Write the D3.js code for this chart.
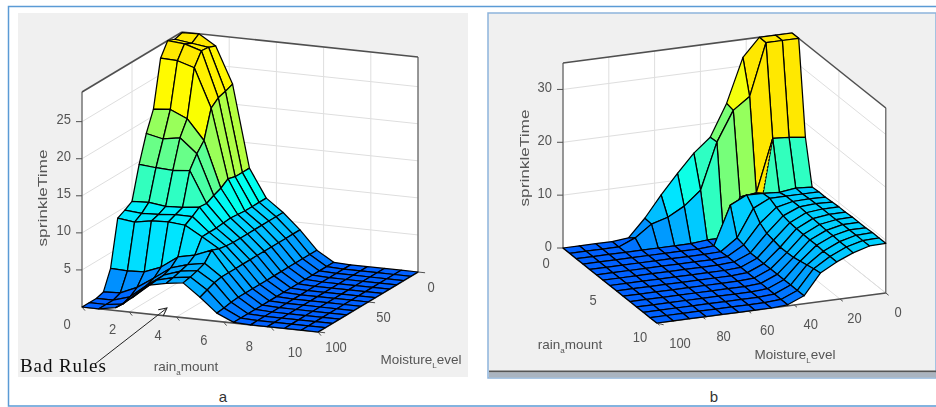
<!DOCTYPE html>
<html>
<head>
<meta charset="utf-8">
<script src="https://cdn.jsdelivr.net/npm/d3@7"></script>
<style>
	html, body { margin: 0; padding: 0; background: #fff; }
	svg { display: block; }
	text { font-family: "Liberation Sans", Arial, sans-serif; fill: #555; }
</style>
</head>
<body>
<div id="chart"></div>
<script>
// Two fuzzy output surfaces (gensurf style), 15 x 15 grid, rain on i, moisture on j

// sprinkleTime for panel a, one row per rain step
const surfaceA = [
	[28.9,28.6,29,27.2,20.9,18.2,14.6,10.2,9.6,9.1,2.9,0.3,0,0,0],
	[29,28.3,28.8,27.1,21.1,17.7,14.4,10.3,9.4,8.8,2.8,0.4,0,0,0],
	[27.6,28,28.1,26.4,20.1,18.1,14.3,10,9.5,9.2,2.9,1.4,0.7,0.3,0.4],
	[22.7,22.3,22,21.2,17.4,16.2,14.5,10.1,9.7,9.3,3.8,2.9,2.5,2.2,2],
	[11.6,11.6,11.6,11.9,11.2,10.8,10.3,10.4,9.7,9.1,5.4,4.5,4.1,4,3.9],
	[7.8,7.8,7.8,7.8,7.9,8,7.9,7.8,7.8,7.8,5.9,5.2,4.9,4.6,4.4],
	[6.1,6.1,6.1,6.1,6.1,6.1,6.1,6.1,6.2,6.4,6.8,5.6,5.2,4.9,4.7],
	[4,4,4,4,4,4,4,4,4,4,4,4,3.8,3.4,3],
	[1.5,1.5,1.5,1.5,1.5,1.5,1.5,1.5,1.5,1.5,1.5,1.5,1.4,1.2,1.1],
	[0.1,0.1,0.1,0.1,0.1,0.1,0.1,0.1,0.1,0.1,0.1,0.1,0.1,0.1,0.1],
	[0,0,0,0,0,0,0,0,0,0,0,0,0,0,0],
	[0,0,0,0,0,0,0,0,0,0,0,0,0,0,0],
	[0,0,0,0,0,0,0,0,0,0,0,0,0,0,0],
	[0,0,0,0,0,0,0,0,0,0,0,0,0,0,0],
	[0,0,0,0,0,0,0,0,0,0,0,0,0,0,0]
];

// sprinkleTime for panel b
const surfaceB = [
	[35,35,35,31.6,23.3,17.3,14.7,11.3,7.6,3.6,0.3,0,0,0,0],
	[35,35,35,25.2,23,17.4,8.7,6.1,4.4,3.5,1.3,0,0,0,0],
	[17.3,17.7,17.9,8,7.6,0.3,0.3,0,0,0,0,0,0,0,0],
	[8.9,9.1,8.7,8.9,9,7.5,0.2,0,0,0,0,0,0,0,0],
	[9,9,9,9,7.5,2.3,0.1,0,0,0,0,0,0,0,0],
	[9,9.1,9,8.3,5.7,2,0.2,0,0,0,0,0,0,0,0],
	[9.1,9.2,9,7.7,4.8,1.5,0.2,0,0,0,0,0,0,0,0],
	[9.2,9.2,8.9,7.4,4.5,1.5,0.2,0,0,0,0,0,0,0,0],
	[9.2,9.2,8.8,7.3,4.2,1.5,0.2,0,0,0,0,0,0,0,0],
	[9.3,9.2,8.7,7.2,4.2,1.5,0.2,0,0,0,0,0,0,0,0],
	[9.3,9.3,8.6,7.2,4.3,1.5,0.2,0,0,0,0,0,0,0,0],
	[9.3,9.3,8.6,7.2,4.6,1.5,0.2,0,0,0,0,0,0,0,0],
	[9.4,9.3,8.5,7.1,4.9,1.5,0.2,0,0,0,0,0,0,0,0],
	[9.4,9.3,8.5,7.1,5.2,1.5,0.2,0,0,0,0,0,0,0,0],
	[9.4,9.3,8.4,7.1,5.4,1.5,0.2,0,0,0,0,0,0,0,0]
];

// tick labels
const rainTicksA = [0, 2, 4, 6, 8, 10];
const moistTicksA = [0, 50, 100];
const timeTicksA = [5, 10, 15, 20, 25];
const rainTicksB = [0, 5, 10];
const moistTicksB = [0, 20, 40, 60, 80, 100];
const timeTicksB = [0, 10, 20, 30];

// colour ramp, share of the top value -> colour
const rampStops = [0, 0.1, 0.2, 0.33, 0.4, 0.5, 0.68, 0.85, 0.92, 1];
const rampColours = ["#0060ff", "#0090ff", "#00b8ff", "#00e8ff", "#00fff0", "#30ffc0", "#80ff70", "#d8ff20", "#ffff00", "#ffe800"];
const ramp = d3.scaleLinear().domain(rampStops).range(rampColours);

const svg = d3.select("#chart").append("svg").attr("width", 936).attr("height", 407);

let defs = svg.append("defs");
defs.append("filter").attr("id", "soft").append("feGaussianBlur").attr("stdDeviation", 0.5);
let marker = defs.append("marker").attr("id", "head").attr("viewBox", "0 0 10 10")
	.attr("refX", 9).attr("refY", 5).attr("markerWidth", 10).attr("markerHeight", 10)
	.attr("markerUnits", "userSpaceOnUse").attr("orient", "auto");
marker.append("path").attr("d", "M1,1L9,5L1,9").attr("fill", "none").attr("stroke", "#222").attr("stroke-width", 1);

// page frames
svg.append("path").attr("d", "M936,6.5H8.5V406H936").attr("fill", "none").attr("stroke", "#5b9bd5").attr("stroke-width", 1.5);
svg.append("rect").attr("x", 18).attr("y", 13).attr("width", 450).attr("height", 364).attr("fill", "#f0f0f0");
svg.append("rect").attr("x", 488).attr("y", 13).attr("width", 448).attr("height", 365).attr("fill", "#f0f0f0")
	.attr("stroke", "#8db4dc").attr("stroke-width", 1.5);
svg.append("rect").attr("x", 489).attr("y", 370.5).attr("width", 447).attr("height", 2).attr("fill", "#555");
svg.append("rect").attr("x", 489).attr("y", 372.5).attr("width", 447).attr("height", 5).attr("fill", "#aab4c0");

const closedLine = d3.line().curve(d3.curveLinearClosed);

drawSurface = (cfg)=>{

	let g = svg.append("g").attr("filter", "url(#soft)");

	// floor position is a sum of two scales, height comes from a third one
	let rainX = d3.scaleLinear().domain([0, 10]).range([0, cfg.rainVec[0]]);
	let rainY = d3.scaleLinear().domain([0, 10]).range([0, cfg.rainVec[1]]);
	let moistX = d3.scaleLinear().domain([0, 100]).range([0, cfg.moistVec[0]]);
	let moistY = d3.scaleLinear().domain([0, 100]).range([0, cfg.moistVec[1]]);
	let timeY = d3.scaleLinear().domain([0, cfg.zTop]).range([0, -cfg.height]);
	let gridRain = d3.scaleLinear().domain([0, 14]).range([0, 10]);
	let gridMoist = d3.scaleLinear().domain([0, 14]).range([0, 100]);

	let project = (r, m, z)=> [
		cfg.origin[0] + rainX(r) + moistX(m),
		cfg.origin[1] + rainY(r) + moistY(m) + timeY(z)
	];
	let segment = (a, b, colour, width)=> g.append("line")
		.attr("x1", a[0]).attr("y1", a[1]).attr("x2", b[0]).attr("y2", b[1])
		.attr("stroke", colour).attr("stroke-width", width);

	// walls and floor
	g.append("path").attr("fill", "#fff")
		.attr("d", closedLine([project(0,100,0), project(0,0,0), project(0,0,cfg.zTop), project(0,100,cfg.zTop)]));
	g.append("path").attr("fill", "#fff")
		.attr("d", closedLine([project(0,0,0), project(10,0,0), project(10,0,cfg.zTop), project(0,0,cfg.zTop)]));
	g.append("path").attr("fill", "#fff")
		.attr("d", closedLine([project(0,0,0), project(10,0,0), project(10,100,0), project(0,100,0)]));

	// grid
	let gridColour = "#dedede";
	cfg.timeTicks.forEach(t=>{
		segment(project(0,100,t), project(0,0,t), gridColour, 1);
		segment(project(0,0,t), project(10,0,t), gridColour, 1);
	});
	cfg.rainTicks.forEach(r=>{
		segment(project(r,0,0), project(r,0,cfg.zTop), gridColour, 1);
		segment(project(r,0,0), project(r,100,0), gridColour, 1);
	});
	cfg.moistTicks.forEach(m=>{
		segment(project(0,m,0), project(0,m,cfg.zTop), gridColour, 1);
		segment(project(0,m,0), project(10,m,0), gridColour, 1);
	});

	// box
	let boxColour = "#505050";
	segment(project(0,100,cfg.zTop), project(0,0,cfg.zTop), boxColour, 1.6);
	segment(project(0,0,cfg.zTop), project(10,0,cfg.zTop), boxColour, 1.6);
	segment(project(0,100,0), project(0,100,cfg.zTop), boxColour, 1.1);
	segment(project(10,0,0), project(10,0,cfg.zTop), boxColour, 1.1);
	segment(project(0,100,0), project(10,100,0), boxColour, 1.6);
	segment(project(10,100,0), project(10,0,0), boxColour, 1.6);

	// axis ticks
	cfg.rainTicks.forEach(r=>{
		let p = project(r,100,0);
		segment(p, [p[0] + cfg.moistVec[0] * -0.03, p[1] + cfg.moistVec[1] * 0.06], boxColour, 1);
	});
	cfg.moistTicks.forEach(m=>{
		let p = project(10,m,0);
		segment(p, [p[0] + cfg.rainVec[0] * 0.03, p[1] + cfg.rainVec[1] * 0.03], boxColour, 1);
	});
	cfg.timeTicks.forEach(t=>{
		let p = project(0,100,t);
		segment(p, [p[0] - 6, p[1]], boxColour, 1);
	});

	// surface, back cells first. flat colour comes from the cell's first corner
	let corner = (i, j)=> project(gridRain(i), gridMoist(j), cfg.surface[i][j]);
	let zone = cfg.surface.length - 1;
	let fold = (i, j)=> cfg.folds.some(f=> f[0] === i && f[1] === j);
	let edgeWidth = 1.25;
	for (let i = 0; i < zone; i++) {
		for (let j = 0; j < zone; j++) {
			let colour = ramp(cfg.surface[i][j] / cfg.zTop);
			let path = g.append("path")
				.attr("fill", colour).attr("stroke", "#000").attr("stroke-width", edgeWidth).attr("stroke-linejoin", "round");
			if (fold(i, j)) {
				// the renderer split this cell along its diagonal, half keeps the colour of the cell behind
				path.attr("d", closedLine([corner(i,j), corner(i+1,j), corner(i+1,j+1)]));
				g.append("path").attr("fill", ramp(cfg.surface[i-1][j] / cfg.zTop)).attr("stroke", "none")
					.attr("d", closedLine([corner(i,j), corner(i+1,j+1), corner(i,j+1)]));
				g.append("path").attr("fill", "none").attr("stroke", "#000").attr("stroke-dasharray", "2,1.5")
					.attr("d", d3.line()([corner(i,j), corner(i+1,j+1)]));
				g.append("path").attr("fill", "none").attr("stroke", "#000").attr("stroke-width", edgeWidth)
					.attr("d", d3.line()([corner(i,j), corner(i,j+1), corner(i+1,j+1)]));
			} else {
				path.attr("d", closedLine([corner(i,j), corner(i+1,j), corner(i+1,j+1), corner(i,j+1)]));
			}
		}
	}

	// tick labels sit on their own lines next to the axes
	let rainLabelX = d3.scaleLinear().domain([0, 10]).range(cfg.rainLabels[0]);
	let rainLabelY = d3.scaleLinear().domain([0, 10]).range(cfg.rainLabels[1]);
	let moistLabelX = d3.scaleLinear().domain([0, 100]).range(cfg.moistLabels[0]);
	let moistLabelY = d3.scaleLinear().domain([0, 100]).range(cfg.moistLabels[1]);

	// the digits in the picture are tall and narrow
	let tickText = (x, y, s, anchor)=> g.append("text").attr("x", x).attr("y", y)
		.attr("text-anchor", anchor || "middle").attr("dy", "0.36em").attr("font-size", 15.5)
		.attr("textLength", String(s).length * 7.2).attr("lengthAdjust", "spacingAndGlyphs").text(s);

	cfg.rainTicks.forEach(r=> tickText(rainLabelX(r), rainLabelY(r), r));
	cfg.moistTicks.forEach(m=> tickText(moistLabelX(m), moistLabelY(m), m));
	cfg.timeTicks.forEach(t=> tickText(cfg.origin[0] + cfg.moistVec[0] - 11, project(0,100,t)[1] - 3, t, "end"));

	// titles
	let rainTitle = g.append("text").attr("x", cfg.rainTitle[0]).attr("y", cfg.rainTitle[1])
		.attr("text-anchor", "middle").attr("font-size", 13.5);
	rainTitle.append("tspan").text("rain");
	rainTitle.append("tspan").attr("dy", 4).attr("font-size", 8).text("a");
	rainTitle.append("tspan").attr("dy", -4).text("mount");

	let moistTitle = g.append("text").attr("x", cfg.moistTitle[0]).attr("y", cfg.moistTitle[1])
		.attr("text-anchor", "middle").attr("font-size", 13.5);
	moistTitle.append("tspan").text("Moisture");
	moistTitle.append("tspan").attr("dy", 4).attr("font-size", 8).text("L");
	moistTitle.append("tspan").attr("dy", -4).text("evel");

	g.append("text").attr("transform", "translate(" + cfg.timeTitle[0] + "," + cfg.timeTitle[1] + ") rotate(-90)")
		.attr("text-anchor", "middle").attr("font-size", 13)
		.attr("textLength", 97).attr("lengthAdjust", "spacingAndGlyphs").text("sprinkleTime");
}

drawSurface({
	surface: surfaceA, zTop: 29, height: 215, folds: [],
	origin: [182, 247], rainVec: [236, 25], moistVec: [-100, 60],
	rainTicks: rainTicksA, moistTicks: moistTicksA, timeTicks: timeTicksA,
	rainLabels: [[67, 295], [323, 351]], moistLabels: [[431, 336], [286, 346]],
	rainTitle: [186, 371], moistTitle: [421, 364], timeTitle: [47, 198]
});

drawSurface({
	surface: surfaceB, zTop: 35, height: 185, folds: [[2, 2]],
	origin: [792, 218], rainVec: [93.8, 75], moistVec: [-229, 30],
	rainTicks: rainTicksB, moistTicks: moistTicksB, timeTicks: timeTicksB,
	rainLabels: [[546, 640], [262, 336]], moistLabels: [[898, 680], [311, 342]],
	rainTitle: [570, 349], moistTitle: [795, 359], timeTitle: [529, 158]
});

// annotation on panel a
let note = svg.append("g").attr("filter", "url(#soft)");
note.append("line").attr("x1", 95).attr("y1", 364).attr("x2", 167).attr("y2", 308)
	.attr("stroke", "#222").attr("stroke-width", 1).attr("marker-end", "url(#head)");
note.append("text").attr("x", 20).attr("y", 372).attr("font-size", 19).attr("letter-spacing", 0.9)
	.style("font-family", "'Liberation Serif', serif").style("fill", "#111").text("Bad Rules");

// captions
svg.append("text").attr("x", 223).attr("y", 402).attr("text-anchor", "middle").attr("font-size", 15).style("fill", "#333").text("a");
svg.append("text").attr("x", 714).attr("y", 402).attr("text-anchor", "middle").attr("font-size", 15).style("fill", "#333").text("b");
</script>
</body>
</html>
